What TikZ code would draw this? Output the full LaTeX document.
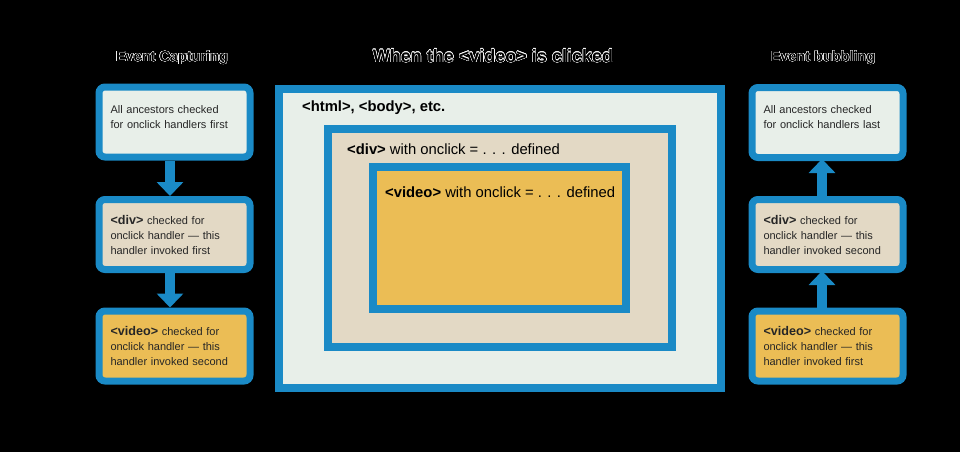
\documentclass[tikz,border=0pt]{standalone}
\usepackage{fontspec}
\setmainfont{Liberation Sans}
\usepackage[copies]{contour}
\contourlength{0.35pt}
\usetikzlibrary{arrows.meta}
\definecolor{bluebd}{HTML}{1A8AC6}
\definecolor{lightfill}{HTML}{E8EFE9}
\definecolor{beigefill}{HTML}{E3D9C5}
\definecolor{yellowfill}{HTML}{EBBD55}
\newcommand{\tagbf}[1]{{\fontsize{12.6}{15}\selectfont\bfseries #1}}
\begin{document}
\begin{tikzpicture}[x=1pt,y=-1pt,
  smallbox/.style={draw=bluebd, line width=7pt, rounded corners=6pt,
    minimum width=151pt, minimum height=70pt, inner xsep=11.5pt, inner ysep=0pt,
    text width=128pt, align=left, font=\fontsize{11}{15}\selectfont, text=black!85},
  bigbox/.style={draw=bluebd, line width=8pt, inner sep=0pt},
  bigtext/.style={anchor=west, font=\fontsize{14.8}{17}\selectfont, text=black, inner sep=0pt},
  titletext/.style={font=\bfseries, text=black, inner sep=0pt},
  flow/.style={draw=bluebd, line width=10pt, -{Triangle[width=26pt,length=14pt]}}]
\fill[black] (0,0) rectangle (960,452);
\useasboundingbox (0,0) rectangle (960,452);

% titles
\node[titletext, font=\fontsize{18}{20}\selectfont\bfseries] (t0) at (493,56) {\contour{white}{When the <video> is clicked}};
\node[titletext, font=\fontsize{14.5}{16}\selectfont\bfseries] (t1) at (172,58) {\contour{white}{Event Capturing}};
\node[titletext, font=\fontsize{14.5}{16}\selectfont\bfseries] (t2) at (823,58) {\contour{white}{Event bubbling}};

% center nested boxes
\node[bigbox, fill=lightfill, minimum width=442pt, minimum height=299pt] (html) at (500,238.5) {};
\node[bigbox, fill=beigefill, minimum width=344pt, minimum height=218pt] (div) at (500,238) {};
\node[bigbox, fill=yellowfill, minimum width=253pt, minimum height=142pt] (video) at (499.5,238) {};
\node[bigtext] (htmlt) at (302,108) {\bfseries <html>, <body>, etc.};
\node[bigtext] (divt) at (347,149) {\textbf{<div>} with onclick = . . . defined};
\node[bigtext] (videot) at (385,192) {\textbf{<video>} with onclick = . . . defined};

% left column
\node[smallbox, fill=lightfill] (l1) at (174.5,122) {All ancestors checked\\for onclick handlers first\par\vspace{10pt}};
\node[smallbox, fill=beigefill] (l2) at (174.5,234.5) {\tagbf{<div>} checked for\\onclick handler --- this\\handler invoked first};
\node[smallbox, fill=yellowfill] (l3) at (174.5,346) {\tagbf{<video>} checked for\\onclick handler --- this\\handler invoked second};

% right column
\node[smallbox, fill=lightfill] (r1) at (827.5,122.5) {All ancestors checked\\for onclick handlers last\par\vspace{10pt}};
\node[smallbox, fill=beigefill] (r2) at (827.5,234.5) {\tagbf{<div>} checked for\\onclick handler --- this\\handler invoked second};
\node[smallbox, fill=yellowfill] (r3) at (827.5,346) {\tagbf{<video>} checked for\\onclick handler --- this\\handler invoked first};

% arrows
\draw[flow] ([xshift=-4.5pt]l1.south) -- ([xshift=-4.5pt]l2.north);
\draw[flow] ([xshift=-4.5pt]l2.south) -- ([xshift=-4.5pt]l3.north);
\draw[flow] ([xshift=-5.5pt]r3.north) -- ([xshift=-5.5pt,yshift=2pt]r2.south);
\draw[flow] ([xshift=-5.5pt]r2.north) -- ([xshift=-5.5pt,yshift=2pt]r1.south);
\end{tikzpicture}
\end{document}
